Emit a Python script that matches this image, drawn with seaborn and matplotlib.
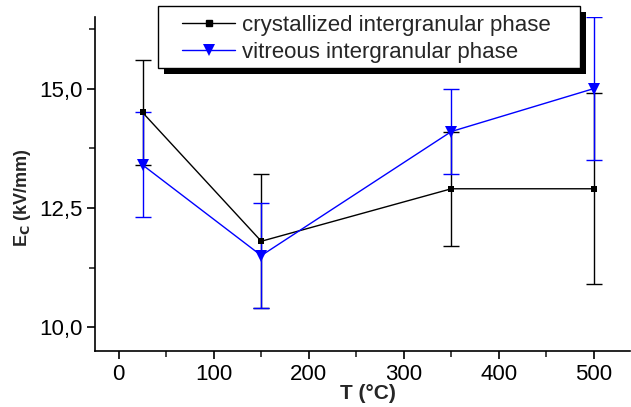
import matplotlib
matplotlib.use("Agg")
import matplotlib.pyplot as plt
import seaborn as sns
import pandas as pd
from matplotlib.ticker import FuncFormatter, MultipleLocator
from matplotlib.lines import Line2D
from matplotlib.patches import Rectangle

temps = [25, 150, 350, 500]
cryst_vals = [14.5, 11.8, 12.9, 12.9]
cryst_err = [1.1, 1.4, 1.2, 2.0]
vitr_vals = [13.4, 11.5, 14.1, 15.0]
vitr_err = [1.1, 1.1, 0.9, 1.5]
labels = ["crystallized intergranular phase", "vitreous intergranular phase"]

sns.set_style("ticks")
plt.rcParams['font.family'] = ['Liberation Sans', 'DejaVu Sans']

df = pd.concat([
    pd.DataFrame({"T": temps, "E": cryst_vals, "phase": labels[0]}),
    pd.DataFrame({"T": temps, "E": vitr_vals, "phase": labels[1]}),
])

W, H = 631, 407
fig = plt.figure(figsize=(W/100, H/100), dpi=100)
ax = fig.add_axes([95/W, 1-351/H, 535/W, 334/H])

ax.errorbar(temps, cryst_vals, yerr=cryst_err, fmt='none', ecolor='black',
            elinewidth=1.0, capsize=6, capthick=1.0, zorder=2)
ax.errorbar(temps, vitr_vals, yerr=vitr_err, fmt='none', ecolor='#0000ff',
            elinewidth=1.0, capsize=6, capthick=1.0, zorder=3)

sns.lineplot(data=df, x="T", y="E", hue="phase", style="phase",
             palette={labels[0]: "black", labels[1]: "#0000ff"},
             markers={labels[0]: "s", labels[1]: "v"}, dashes=False,
             markersize=6, linewidth=1.0, markeredgewidth=0, ax=ax, zorder=4,
             legend=False)
for ln in ax.get_lines():
    if ln.get_marker() == 's':
        ln.set_markersize(4)
    elif ln.get_marker() == 'v':
        ln.set_markersize(8)

ax.set_xlim(-25, 538)
ax.set_ylim(9.5, 16.5)
ax.xaxis.set_major_locator(MultipleLocator(100))
ax.xaxis.set_minor_locator(MultipleLocator(50))
ax.yaxis.set_major_locator(MultipleLocator(2.5))
ax.yaxis.set_minor_locator(MultipleLocator(1.25))
ax.yaxis.set_major_formatter(FuncFormatter(lambda v, p: f"{v:.1f}".replace('.', ',')))

for s in ['top', 'right']:
    ax.spines[s].set_visible(False)
for s in ['left', 'bottom']:
    ax.spines[s].set_linewidth(1.2)
    ax.spines[s].set_color('black')
ax.tick_params(which='major', direction='out', length=6, width=1.2, labelsize=16, colors='black', pad=3)
ax.tick_params(which='minor', direction='out', length=4, width=1.2)

ax.set_xlabel("T (°C)", fontsize=15, fontweight='bold', labelpad=0)
ax.xaxis.set_label_coords(0.51, -0.10)
ax.set_ylabel(r"E$_\mathbf{C}$ (kV/mm)", fontsize=13, fontweight='bold')
ax.yaxis.set_label_coords(-0.115, 0.46)

# legend box with solid black shadow
bx0, bx1, by0, by1 = 158, 580, 6, 68
fig.patches.append(Rectangle(((bx0 + 6) / W, 1 - (by1 + 6) / H), (bx1 - bx0) / W, (by1 - by0) / H,
                             transform=fig.transFigure, facecolor='black', edgecolor='black',
                             lw=0, zorder=5))
fig.patches.append(Rectangle((bx0 / W, 1 - by1 / H), (bx1 - bx0) / W, (by1 - by0) / H,
                             transform=fig.transFigure, facecolor='white', edgecolor='black',
                             lw=1.0, zorder=6))

handles = [Line2D([], [], color='black', marker='s', markersize=4, lw=1.0),
           Line2D([], [], color='#0000ff', marker='v', markersize=8, lw=1.0, markeredgewidth=0)]
leg = fig.legend(handles, labels, loc='upper left', bbox_to_anchor=(182 / W, 1 - 15 / H),
                 frameon=False, fontsize=16, handlelength=2.4,
                 borderpad=0, labelspacing=0.25, handletextpad=0.3, borderaxespad=0)
leg.set_zorder(7)

fig.savefig("out.png", dpi=100)
